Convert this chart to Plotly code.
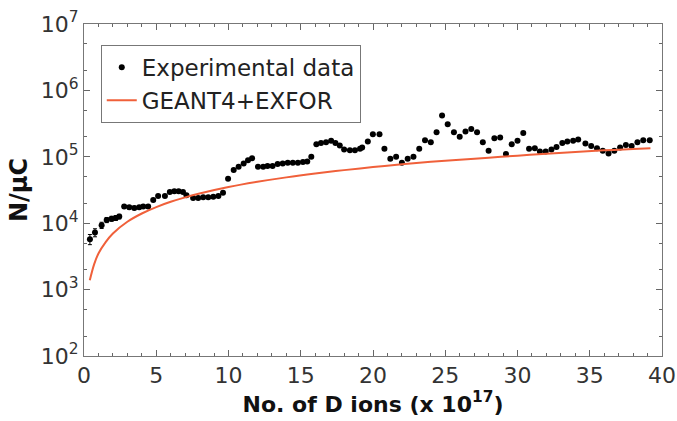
import plotly.graph_objects as go

exp_x = [0.41, 0.76, 1.22, 1.57, 1.91, 2.2, 2.44, 2.78, 3.13, 3.48, 3.82, 4.1, 4.44, 4.79, 5.13, 5.6,
         5.94, 6.25, 6.55, 6.85, 7.09, 7.55, 7.9, 8.25, 8.6, 8.95, 9.3, 9.62, 9.97, 10.36, 10.7, 11.05,
         11.35, 11.63, 12.04, 12.4, 12.7, 13.05, 13.4, 13.75, 14.1, 14.45, 14.8, 15.15, 15.45, 15.73,
         16.08, 16.4, 16.75, 17.1, 17.4, 17.7, 18.0, 18.4, 18.75, 19.1, 19.25, 19.64, 19.99, 20.45,
         20.79, 21.2, 21.6, 22.0, 22.4, 22.8, 23.2, 23.6, 24.0, 24.4, 24.78, 25.17, 25.6, 26.0, 26.4,
         26.8, 27.2, 27.6, 28.0, 28.4, 28.8, 29.2, 29.6, 30.0, 30.4, 30.8, 31.2, 31.55, 31.95, 32.35,
         32.7, 33.1, 33.45, 33.85, 34.2, 34.7, 35.1, 35.5, 35.9, 36.3, 36.7, 37.1, 37.5, 37.9, 38.3,
         38.7, 39.15]
exp_y = [5750, 7240, 9330, 11200, 11700, 12000, 12600, 17800, 17400, 17000, 17400, 17800, 17800, 22400,
         25700, 25700, 29500, 30200, 30200, 29500, 26300, 24000, 24000, 24500, 24500, 25100, 25700,
         28800, 46800, 63100, 70800, 79400, 89100, 95500, 70800, 70800, 72400, 72400, 77600, 79400,
         81300, 81300, 81300, 83200, 85100, 100000, 155000, 162000, 166000, 174000, 162000, 148000,
         129000, 126000, 126000, 132000, 138000, 170000, 219000, 219000, 132000, 93300, 100000, 81300,
         93300, 100000, 132000, 178000, 166000, 234000, 417000, 309000, 234000, 200000, 240000, 263000,
         234000, 166000, 123000, 191000, 195000, 110000, 155000, 174000, 229000, 132000, 135000, 120000,
         120000, 129000, 141000, 162000, 170000, 174000, 182000, 158000, 145000, 135000, 123000, 112000,
         123000, 138000, 151000, 145000, 166000, 178000, 178000]
exp_err = 1000

sim_x = [0.4, 0.7, 1.0, 1.5, 2.0, 3.0, 4.0, 5.0, 6.0, 7.0, 8.0, 10, 12, 14, 16, 18, 20, 22, 24, 26,
         28, 30, 32, 34, 36, 38, 39.2]
sim_y = [1380, 2400, 3500, 5200, 7000, 10500, 14000, 17500, 21000, 24500, 28000, 35000, 42000, 49000,
         56000, 63000, 70000, 77000, 84000, 90000, 97000, 104000, 111000, 118000, 125000, 131000, 135000]

y_tickvals = [1e2, 1e3, 1e4, 1e5, 1e6, 1e7]
y_ticktext = ["10<sup>2</sup>", "10<sup>3</sup>", "10<sup>4</sup>", "10<sup>5</sup>", "10<sup>6</sup>", "10<sup>7</sup>"]
x_tickvals = [0, 5, 10, 15, 20, 25, 30, 35, 40]

fig = go.Figure()
fig.add_trace(go.Scatter(
    x=exp_x, y=exp_y, mode="markers", name="Experimental data",
    marker=dict(color="black", size=6),
    error_y=dict(type="constant", value=exp_err, color="black", thickness=1, width=2),
))
fig.add_trace(go.Scatter(
    x=sim_x, y=sim_y, mode="lines", name="GEANT4+EXFOR",
    line=dict(color="#f0603a", width=2, shape="spline"),
))

font_family = "DejaVu Sans"
fig.update_layout(
    width=677, height=421,
    margin=dict(l=84, r=15, t=24, b=65),
    paper_bgcolor="white", plot_bgcolor="white",
    font=dict(family=font_family, color="#222", size=22),
    showlegend=True,
    legend=dict(x=0.029, y=0.937, xanchor="left", yanchor="top",
                bgcolor="white", bordercolor="#777", borderwidth=1,
                font=dict(size=23, family=font_family, color="#222"),
                itemwidth=30, tracegroupgap=0),
    xaxis=dict(range=[0, 40], tickvals=x_tickvals, ticks="inside", ticklen=6,
               tickcolor="#666", showline=True, linecolor="#777", linewidth=1, mirror="ticks",
               showgrid=False, zeroline=False, automargin=False, ticklabeloverflow="allow",
               tickfont=dict(size=22, color="#333"),
               minor=dict(dtick=1, ticks="inside", ticklen=3, tickcolor="#666", showgrid=False),
               title=dict(text="<b>No. of D ions (x 10<sup>17</sup>)</b>", font=dict(size=22, color="#111"), standoff=0)),
    yaxis=dict(type="log", range=[2, 7], tickvals=y_tickvals, ticktext=y_ticktext,
               ticks="inside", ticklen=6, tickcolor="#666",
               showline=True, linecolor="#777", linewidth=1, mirror="ticks",
               showgrid=False, zeroline=False, automargin=False, ticklabeloverflow="allow",
               tickfont=dict(size=22, color="#333"),
               minor=dict(ticks="inside", ticklen=3, tickcolor="#666", showgrid=False),
               title=dict(text="<b>N/μC</b>", font=dict(size=24, color="#111"), standoff=6)),
)

fig.write_html("out.html", config={"displayModeBar": False},
               post_script="document.body.style.margin='0';document.documentElement.style.overflow='hidden';")
